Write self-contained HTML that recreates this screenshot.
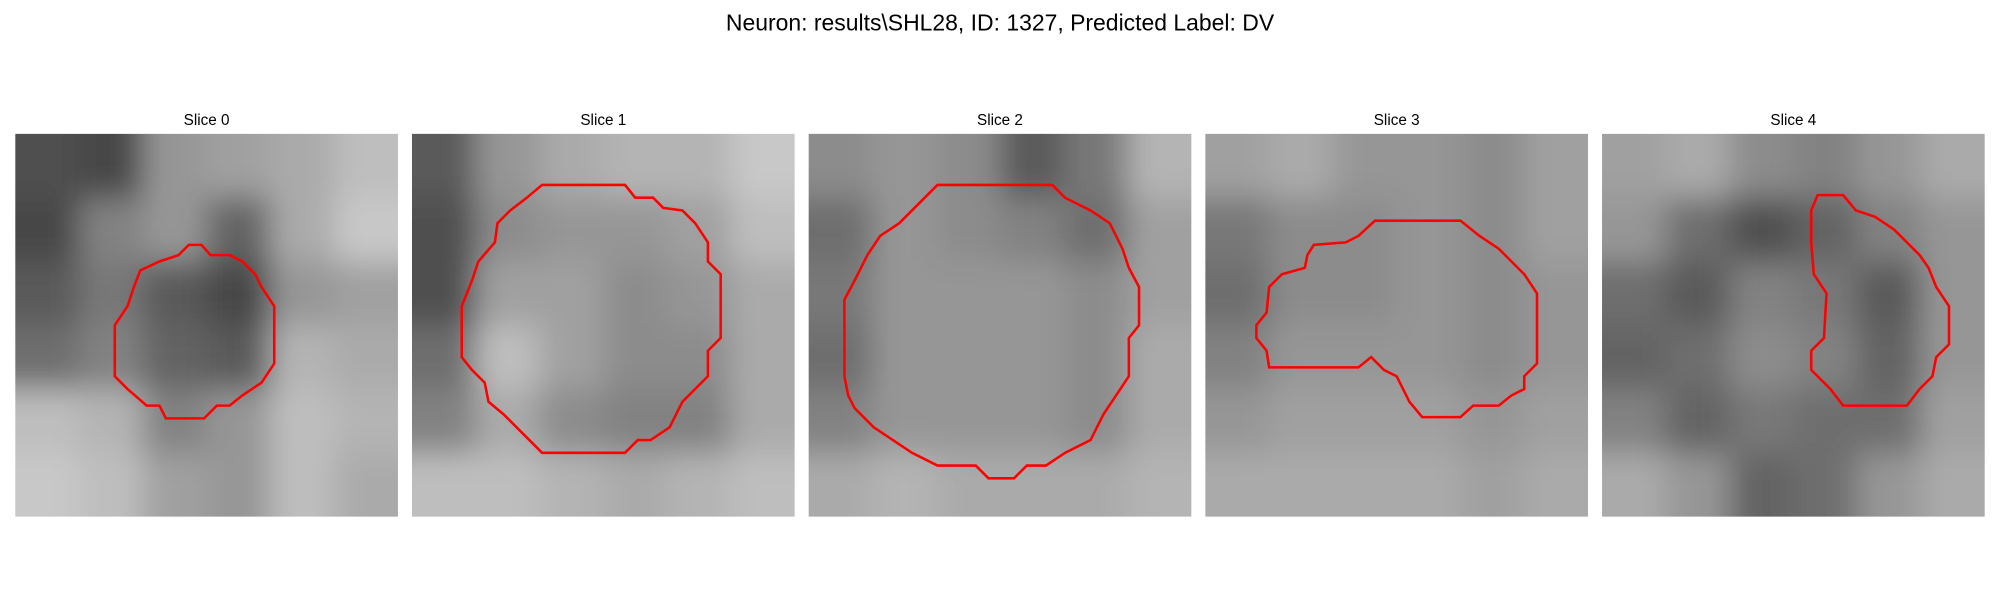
<!DOCTYPE html>
<html><head><meta charset="utf-8"><style>
html,body{margin:0;padding:0;background:#fff;width:2000px;height:600px;overflow:hidden}
svg{display:block;font-family:"Liberation Sans","DejaVu Sans",sans-serif}
</style></head><body>
<svg id="fig" width="2000" height="600" viewBox="0 0 1568 470.4" xmlns="http://www.w3.org/2000/svg">
<defs id="defs"><filter id="blur" x="-20%" y="-20%" width="140%" height="140%"><feGaussianBlur stdDeviation="12"/></filter></defs>
<text x="784" y="24" text-anchor="middle" font-size="18">Neuron: results\SHL28, ID: 1327, Predicted Label: DV</text>
</svg>
<script>
const sliceTitles = ["Slice 0","Slice 1","Slice 2","Slice 3","Slice 4"];
const panelX = [12,323,634,945,1256];
const intensity0 = [[80,70,150,160,170,190],[70,130,150,100,170,200],[90,120,90,70,150,160],[110,130,100,90,180,170],[190,180,130,150,190,180],[200,190,160,150,190,170]];
const intensity1 = [[90,150,170,180,180,200],[80,140,150,150,160,190],[80,160,160,140,150,170],[110,190,160,140,140,170],[130,170,140,130,130,170],[190,190,180,170,180,190]];
const intensity2 = [[140,150,140,90,120,180],[110,150,140,130,110,160],[120,150,150,150,140,160],[110,150,150,150,140,170],[130,150,150,150,140,170],[170,180,170,170,170,180]];
const intensity3 = [[160,170,150,150,140,160],[120,140,140,150,140,160],[110,140,140,150,140,150],[130,150,150,150,140,150],[150,160,160,160,150,160],[170,170,170,170,160,170]];
const intensity4 = [[160,170,140,130,150,170],[150,110,80,100,130,150],[110,90,130,120,90,150],[100,110,140,130,100,150],[130,100,120,110,110,160],[170,150,100,110,150,170]];
const contour0 = [[148,192],[158,192],[165,200],[180,200],[190,205],[200,215],[205,225],[215,240],[215,285],[205,300],[190,310],[180,318],[170,318],[160,328],[130,328],[125,318],[115,318],[100,305],[90,295],[90,255],[100,240],[105,225],[110,212],[125,205],[140,200]];
const contour1 = [[413,155],[425,145],[490,145],[498,155],[512,155],[520,163],[535,165],[545,175],[555,190],[555,205],[565,215],[565,265],[555,275],[555,295],[545,305],[535,315],[525,335],[510,345],[500,345],[490,355],[425,355],[410,340],[395,325],[383,315],[380,300],[370,290],[362,280],[362,240],[370,220],[375,205],[388,190],[390,175],[400,165]];
const contour2 = [[735,145],[825,145],[835,155],[855,165],[870,175],[875,185],[880,195],[885,210],[893,225],[893,255],[885,265],[885,295],[875,310],[865,325],[855,345],[835,355],[820,365],[805,365],[795,375],[775,375],[765,365],[735,365],[715,355],[700,345],[685,335],[670,320],[665,310],[662,295],[662,235],[670,220],[680,200],[690,185],[705,175],[715,165],[725,155]];
const contour3 = [[1078,173],[1145,173],[1160,185],[1175,195],[1185,205],[1195,215],[1205,230],[1205,285],[1195,295],[1195,305],[1185,310],[1175,318],[1155,318],[1145,327],[1115,327],[1105,315],[1100,305],[1095,295],[1085,290],[1075,280],[1065,288],[995,288],[993,275],[985,265],[985,255],[993,245],[995,225],[1005,215],[1023,210],[1025,200],[1030,192],[1055,190],[1065,185]];
const contour4 = [[1425,153],[1445,153],[1455,165],[1470,170],[1485,180],[1495,190],[1505,200],[1512,210],[1518,225],[1528,240],[1528,270],[1518,280],[1515,295],[1505,305],[1495,318],[1445,318],[1435,305],[1420,290],[1420,275],[1430,265],[1432,230],[1422,215],[1420,190],[1420,165]];
const intensities=[intensity0,intensity1,intensity2,intensity3,intensity4];
const contours=[contour0,contour1,contour2,contour3,contour4];
const NS="http://www.w3.org/2000/svg";
const svg=document.getElementById('fig');
const defs=document.getElementById('defs');
const PY=105, PW=300, PAD=40;
function mk(t,a){const e=document.createElementNS(NS,t);for(const k in a)e.setAttribute(k,a[k]);return e;}
for(let p=0;p<5;p++){
  const cp=mk('clipPath',{id:'clip'+p});
  cp.appendChild(mk('rect',{x:panelX[p],y:PY,width:PW,height:PW}));
  defs.appendChild(cp);
  const g=mk('g',{});
  
  
  const clipG=mk('g',{'clip-path':'url(#clip'+p+')'});
  const img=mk('g',{filter:'url(#blur)'});
  
  
  const grid=intensities[p], n=grid.length, cs=PW/n;
  for(let r=0;r<n;r++)for(let c=0;c<grid[r].length;c++){
    const v=grid[r][c];
    let x0=panelX[p]+c*cs, y0=PY+r*cs, x1=x0+cs+0.5, y1=y0+cs+0.5;
    if(c===0)x0-=PAD; if(r===0)y0-=PAD; if(c===n-1)x1+=PAD; if(r===n-1)y1+=PAD;
    const rc=mk('rect',{x:x0,y:y0,width:x1-x0,height:y1-y0,fill:`rgb(${v},${v},${v})`});
    
    
    img.appendChild(rc);
  }
  clipG.appendChild(img);
  g.appendChild(clipG);
  const pl=mk('polygon',{points:contours[p].map(q=>q.join(',')).join(' '),fill:'none',stroke:'#ff0000','stroke-width':2});
  
  
  g.appendChild(pl);
  const t=mk('text',{x:panelX[p]+PW/2,y:98,'text-anchor':'middle','font-size':12});
  t.textContent=sliceTitles[p];
  
  
  g.appendChild(t);
  svg.appendChild(g);
}
</script>
</body></html>
